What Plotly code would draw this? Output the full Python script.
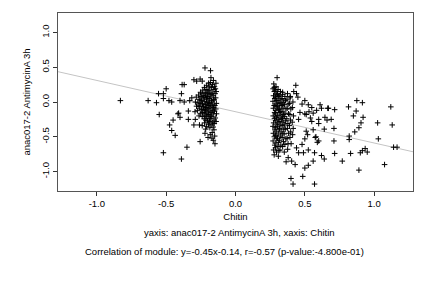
import plotly.graph_objects as go

# ---- data (x = Chitin, y = anac017-2 AntimycinA 3h) ----
left_outliers = [
    (-0.83, 0.02), (-0.63, 0.02), (-0.57, -0.01), (-0.555, 0.12), (-0.50, 0.19),
    (-0.52, 0.12), (-0.55, -0.18), (-0.52, -0.73), (-0.48, 0.02), (-0.46, 0.0),
    (-0.475, -0.33), (-0.45, -0.26), (-0.46, -0.41), (-0.435, -0.48), (-0.41, -0.16),
    (-0.40, -0.22), (-0.39, -0.82), (-0.35, -0.65), (-0.37, 0.25), (-0.385, 0.25),
    (-0.39, 0.12), (-0.40, 0.02), (-0.37, 0.0), (-0.34, -0.13), (-0.34, -0.25),
    (-0.30, 0.32), (-0.29, -0.25), (-0.30, -0.33), (-0.26, -0.33), (-0.255, -0.57),
    (-0.22, -0.45), (-0.22, 0.49), (-0.18, 0.45), (-0.28, 0.30), (-0.24, 0.30),
    (-0.415, -0.17), (-0.33, 0.02), (-0.315, 0.06), (-0.255, 0.33), (-0.52, 0.05),
]
left_cluster = [
    (-0.141, 0.27), (-0.152, 0.22), (-0.139, 0.15), (-0.147, 0.12), (-0.143, 0.06),
    (-0.154, 0.03), (-0.138, -0.02), (-0.149, -0.05), (-0.142, -0.10), (-0.151, -0.13),
    (-0.137, -0.17), (-0.146, -0.23), (-0.140, -0.28), (-0.153, -0.31), (-0.145, 0.19),
    (-0.159, 0.31), (-0.166, 0.25), (-0.156, 0.18), (-0.168, 0.13), (-0.161, 0.09),
    (-0.157, 0.04), (-0.169, 0.0), (-0.163, -0.04), (-0.158, -0.08), (-0.167, -0.12),
    (-0.160, -0.17), (-0.171, -0.21), (-0.155, -0.26), (-0.165, -0.30), (-0.161, -0.36),
    (-0.177, 0.35), (-0.181, 0.28), (-0.174, 0.21), (-0.185, 0.16), (-0.176, 0.11),
    (-0.183, 0.07), (-0.173, 0.02), (-0.186, -0.02), (-0.178, -0.06), (-0.184, -0.10),
    (-0.175, -0.15), (-0.182, -0.19), (-0.179, -0.24), (-0.187, -0.28), (-0.176, -0.33),
    (-0.194, 0.27), (-0.190, 0.22), (-0.198, 0.17), (-0.192, 0.12), (-0.201, 0.08),
    (-0.189, 0.05), (-0.196, -0.01), (-0.191, -0.05), (-0.199, -0.09), (-0.193, -0.14),
    (-0.197, -0.18), (-0.190, -0.23), (-0.202, -0.27), (-0.195, -0.32),
    (-0.208, 0.24), (-0.212, 0.18), (-0.205, 0.13), (-0.215, 0.10), (-0.209, 0.04),
    (-0.204, 0.00), (-0.213, -0.04), (-0.207, -0.08), (-0.216, -0.12), (-0.206, -0.16),
    (-0.211, -0.21), (-0.214, -0.26),
    (-0.224, 0.21), (-0.219, 0.14), (-0.228, 0.09), (-0.221, 0.06), (-0.226, 0.01),
    (-0.218, -0.03), (-0.229, -0.07), (-0.222, -0.11), (-0.227, -0.16), (-0.220, -0.19),
    (-0.225, -0.24), (-0.223, -0.30),
    (-0.236, 0.17), (-0.241, 0.12), (-0.233, 0.06), (-0.244, 0.02), (-0.238, -0.03),
    (-0.232, -0.07), (-0.243, -0.11), (-0.237, -0.15), (-0.240, -0.21),
    (-0.252, 0.14), (-0.248, 0.08), (-0.256, 0.03), (-0.250, -0.02), (-0.258, -0.06),
    (-0.247, -0.10), (-0.254, -0.17),
    (-0.266, 0.10), (-0.262, 0.04), (-0.271, -0.01), (-0.264, -0.06), (-0.273, -0.12),
    (-0.263, -0.20),
    (-0.283, 0.07), (-0.289, 0.00), (-0.281, -0.06), (-0.292, -0.14),
    (-0.155, -0.40), (-0.168, -0.44), (-0.150, -0.49), (-0.160, -0.55), (-0.148, -0.60),
    (-0.182, -0.47), (-0.198, -0.51), (-0.185, -0.37), (-0.215, -0.39), (-0.240, -0.34),
    (-0.210, -0.35), (-0.170, -0.52),
]
right_cluster = [
    (0.276, 0.26), (0.271, 0.19), (0.280, 0.15), (0.274, 0.09), (0.283, 0.05),
    (0.270, 0.01), (0.279, -0.05), (0.273, -0.09), (0.282, -0.15), (0.272, -0.20),
    (0.281, -0.24), (0.275, -0.30), (0.270, -0.35), (0.284, -0.40), (0.273, -0.45),
    (0.280, -0.50), (0.271, -0.56), (0.283, -0.62), (0.275, -0.69), (0.279, -0.76),
    (0.292, 0.22), (0.287, 0.17), (0.297, 0.11), (0.289, 0.07), (0.295, 0.02),
    (0.286, -0.03), (0.298, -0.07), (0.291, -0.12), (0.288, -0.17), (0.296, -0.22),
    (0.290, -0.27), (0.299, -0.32), (0.287, -0.37), (0.294, -0.43), (0.289, -0.48),
    (0.297, -0.53), (0.291, -0.59), (0.288, -0.66), (0.296, -0.72),
    (0.307, 0.18), (0.303, 0.12), (0.311, 0.08), (0.305, 0.02), (0.313, -0.02),
    (0.302, -0.06), (0.309, -0.11), (0.315, -0.15), (0.304, -0.20), (0.312, -0.25),
    (0.306, -0.30), (0.301, -0.35), (0.314, -0.40), (0.308, -0.46), (0.303, -0.52),
    (0.311, -0.58), (0.306, -0.64), (0.313, -0.70), (0.309, -0.78),
    (0.324, 0.15), (0.319, 0.09), (0.328, 0.04), (0.321, -0.01), (0.330, -0.05),
    (0.318, -0.10), (0.326, -0.14), (0.322, -0.19), (0.331, -0.24), (0.320, -0.28),
    (0.327, -0.33), (0.317, -0.38), (0.329, -0.43), (0.323, -0.49), (0.318, -0.55),
    (0.327, -0.62), (0.321, -0.69),
    (0.340, 0.11), (0.336, 0.05), (0.345, 0.00), (0.338, -0.04), (0.343, -0.09),
    (0.335, -0.14), (0.347, -0.18), (0.339, -0.23), (0.344, -0.29), (0.337, -0.34),
    (0.348, -0.39), (0.341, -0.45), (0.336, -0.51), (0.346, -0.57), (0.340, -0.64),
    (0.356, 0.08), (0.361, 0.02), (0.353, -0.04), (0.364, -0.10), (0.357, -0.16),
    (0.352, -0.21), (0.362, -0.27), (0.355, -0.33), (0.359, -0.39), (0.351, -0.46),
    (0.363, -0.53), (0.356, -0.61), (0.352, -0.72),
    (0.375, 0.12), (0.371, 0.04), (0.380, -0.03), (0.373, -0.09), (0.382, -0.17),
    (0.370, -0.24), (0.378, -0.31), (0.374, -0.38), (0.383, -0.45), (0.372, -0.52),
    (0.379, -0.60), (0.376, -0.68),
    (0.394, 0.06), (0.390, -0.02), (0.399, -0.10), (0.392, -0.18), (0.397, -0.26),
    (0.389, -0.34), (0.398, -0.43), (0.393, -0.51), (0.401, -0.60),
    (0.414, 0.00), (0.410, -0.08), (0.418, -0.20), (0.409, -0.29), (0.416, -0.38),
    (0.412, -0.47),
]
right_outliers = [
    (0.30, 0.35), (0.28, 0.21), (0.34, 0.14), (0.435, 0.24), (0.42, 0.15),
    (0.44, 0.12), (0.45, 0.07), (0.395, 0.08), (0.50, 0.02), (0.48, -0.03),
    (0.525, -0.04), (0.55, -0.08), (0.585, -0.12), (0.61, -0.04), (0.62, -0.09),
    (0.665, -0.09), (0.56, -0.16), (0.50, -0.17), (0.465, -0.15), (0.645, -0.22),
    (0.60, -0.25), (0.455, -0.25), (0.56, -0.40), (0.575, -0.51), (0.60, -0.56),
    (0.50, -0.53), (0.48, -0.61), (0.44, -0.66), (0.455, -0.73), (0.49, -0.73),
    (0.525, -0.69), (0.57, -0.73), (0.62, -0.77), (0.64, -0.82), (0.56, -0.85),
    (0.525, -0.91), (0.50, -0.95), (0.43, -0.90), (0.38, -0.80), (0.365, -0.86),
    (0.405, -0.85), (0.485, -1.07), (0.40, -1.10), (0.415, -1.18), (0.57, -1.18),
    (0.64, -0.39), (0.51, -0.42), (0.52, -0.47), (0.58, -0.50), (0.59, -0.58),
    (0.54, -0.23), (0.55, -0.28), (0.60, -0.31), (0.53, -0.14), (0.51, -0.18),
    (0.875, 0.02), (0.915, -0.01), (0.815, -0.07), (0.87, -0.13), (0.67, -0.09),
    (0.715, -0.11), (1.12, -0.07), (0.85, -0.20), (0.92, -0.22), (0.66, -0.26),
    (0.69, -0.25), (0.905, -0.30), (1.025, -0.30), (1.13, -0.33), (0.89, -0.37),
    (0.71, -0.38), (0.86, -0.43), (0.82, -0.49), (0.82, -0.54), (0.71, -0.56),
    (1.03, -0.53), (1.14, -0.65), (1.165, -0.65), (0.935, -0.67), (0.915, -0.70),
    (0.90, -0.73), (0.95, -0.72), (0.83, -0.74), (0.715, -0.74), (0.77, -0.85),
    (1.075, -0.90), (0.89, -0.98),
]

slope = -0.45
intercept = -0.14
x_range = [-1.28, 1.28]
y_range = [-1.28, 1.28]
x_ticks = [-1.0, -0.5, 0.0, 0.5, 1.0]
y_ticks = [-1.0, -0.5, 0.0, 0.5, 1.0]
tick_labels = ["-1.0", "-0.5", "0.0", "0.5", "1.0"]

x_title = "Chitin"
y_title = "anac017-2 AntimycinA 3h"
caption1 = "yaxis: anac017-2 AntimycinA 3h, xaxis: Chitin"
caption2 = "Correlation of module: y=-0.45x-0.14, r=-0.57 (p-value:-4.800e-01)"

points = left_outliers + left_cluster + right_cluster + right_outliers
xs = [p[0] for p in points]
ys = [p[1] for p in points]

FONT = "Liberation Sans, Arial, Helvetica, sans-serif"

fig = go.Figure()
fig.add_trace(go.Scatter(
    x=x_range, y=[slope * v + intercept for v in x_range],
    mode="lines", line=dict(color="#c4c4c4", width=1),
    hoverinfo="skip", showlegend=False,
))
fig.add_trace(go.Scatter(
    x=xs, y=ys, mode="markers",
    marker=dict(symbol="cross-thin", size=4, color="black",
                line=dict(width=1, color="black")),
    showlegend=False,
))

axis_common = dict(
    showgrid=False, zeroline=False, showline=True, mirror=True,
    linecolor="#555555", linewidth=1, ticks="outside", ticklen=4,
    tickcolor="#333333", tickwidth=1,
    tickfont=dict(family=FONT, size=9.5, color="black"),
)
fig.update_xaxes(range=x_range, tickvals=x_ticks, ticktext=tick_labels,
                 title=dict(text=x_title, standoff=4,
                            font=dict(family=FONT, size=9.5, color="black")),
                 **axis_common)
fig.update_yaxes(range=y_range, tickvals=y_ticks, ticktext=tick_labels,
                 tickangle=-90,
                 title=dict(text=y_title, standoff=7,
                            font=dict(family=FONT, size=9.5, color="black")),
                 **axis_common)

fig.add_annotation(text=caption1, xref="paper", yref="paper", x=0.51, y=-0.232,
                   showarrow=False, xanchor="center", yanchor="middle",
                   font=dict(family=FONT, size=9.5, color="black"))
fig.add_annotation(text=caption2, xref="paper", yref="paper", x=0.468, y=-0.339,
                   showarrow=False, xanchor="center", yanchor="middle",
                   font=dict(family=FONT, size=9.5, color="black"))

fig.update_layout(
    width=432, height=288,
    margin=dict(l=58, r=19, t=13, b=97, pad=0),
    paper_bgcolor="white", plot_bgcolor="white",
    font=dict(family=FONT, size=9.5, color="black"),
)

fig.write_html("out.html")
